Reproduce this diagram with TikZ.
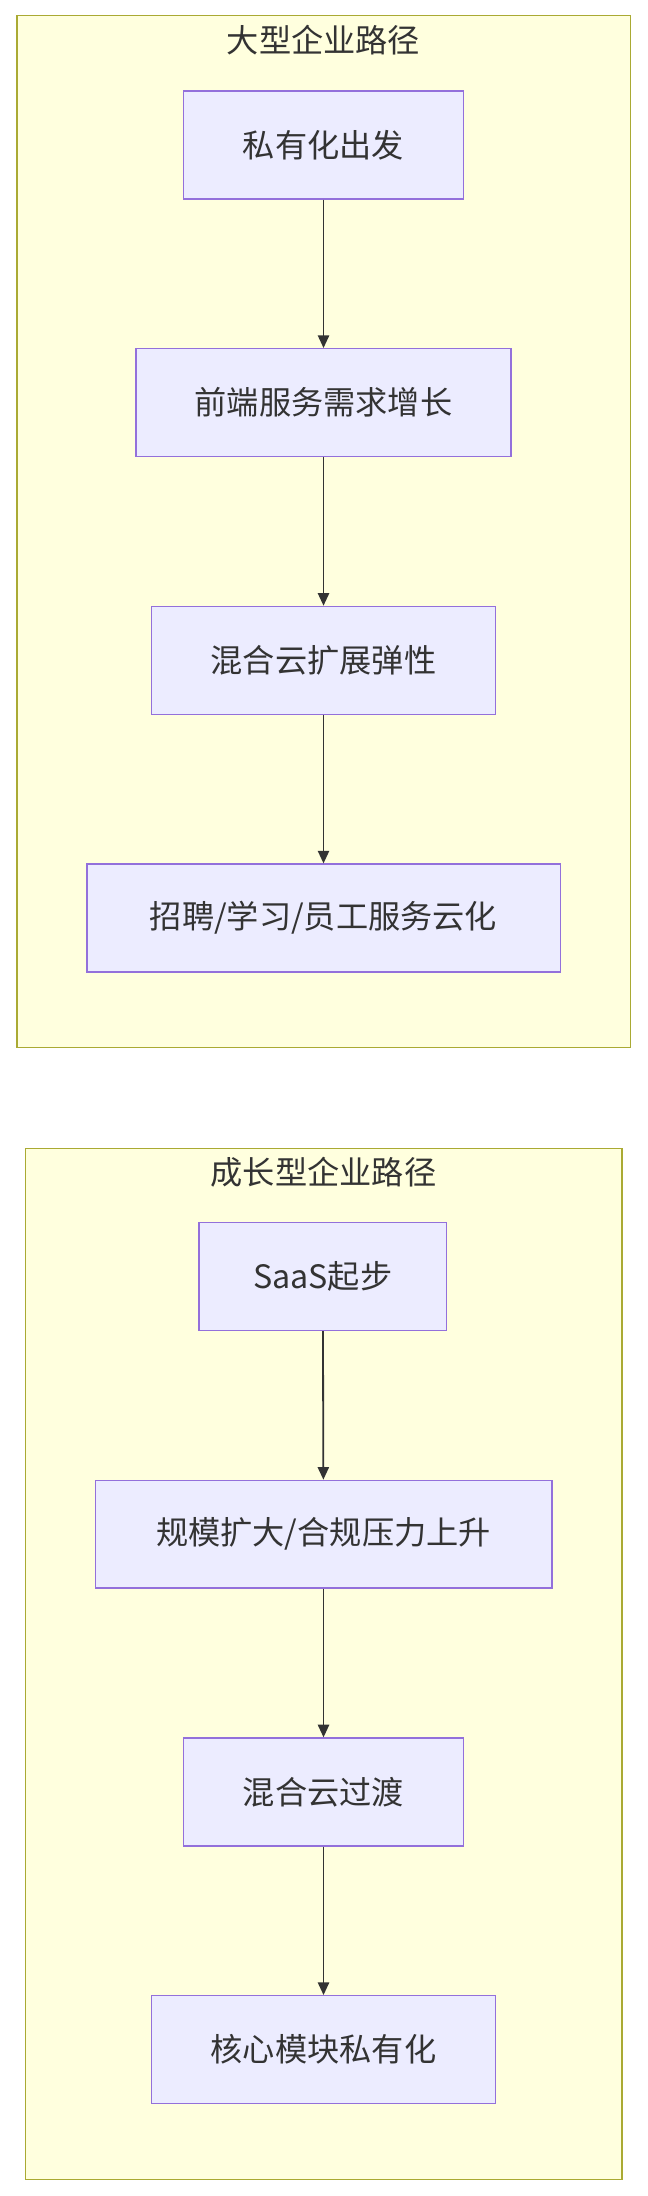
\documentclass[tikz,border=0pt]{standalone}
\usepackage{fontspec}
\setmainfont{Noto Sans CJK SC}
\usetikzlibrary{arrows.meta}
\definecolor{clfill}{HTML}{FFFFDE}
\definecolor{cldraw}{HTML}{AAAA33}
\definecolor{ndfill}{HTML}{ECECFF}
\definecolor{nddraw}{HTML}{9370DB}
\definecolor{txt}{HTML}{333333}
\tikzset{x=1pt,y=-1pt,
 cluster/.style={fill=clfill,draw=cldraw,line width=1pt},
 box/.style={fill=ndfill,draw=nddraw,line width=1pt,text=txt,font=\fontsize{23}{26}\selectfont},
 ttl/.style={text=txt,font=\fontsize{23}{26}\selectfont},
 arr/.style={draw=txt,line width=1.3pt,-{Triangle[length=9pt,width=8pt]}}}
\newcommand{\bx}[6]{\path (#2,#3) rectangle (#4,#5) node[box,minimum width={#4-#2},minimum height={#5-#3},anchor=center] (#1) at ({(#2+#4)/2},{(#3+#5)/2}) {#6};}
\begin{document}
\begin{tikzpicture}
\useasboundingbox (0,0) rectangle (462,1568);
\fill[white] (0,0) rectangle (462,1568);
\draw[cluster] (12,11) rectangle (450,748);
\node[ttl] (t1) at (231,29) {大型企业路径};
\draw[cluster] (18,820) rectangle (444,1556);
\node[ttl] (t2) at (231,837) {成长型企业路径};
\bx{a1}{131}{65}{331}{142}{私有化出发}
\bx{a2}{97}{249}{365}{326}{前端服务需求增长}
\bx{a3}{108}{433}{354}{510}{混合云扩展弹性}
\bx{a4}{62}{617}{400}{694}{招聘/学习/员工服务云化}
\bx{b1}{142}{873}{319}{950}{SaaS起步}
\bx{b2}{68}{1057}{394}{1134}{规模扩大/合规压力上升}
\bx{b3}{131}{1241}{331}{1318}{混合云过渡}
\bx{b4}{108}{1425}{354}{1502}{核心模块私有化}
\draw[arr] (a1) -- (a2);
\draw[arr] (a2) -- (a3);
\draw[arr] (a3) -- (a4);
\draw[arr] (b1) -- (b2);
\draw[arr] (b2) -- (b3);
\draw[arr] (b3) -- (b4);
\end{tikzpicture}
\end{document}
